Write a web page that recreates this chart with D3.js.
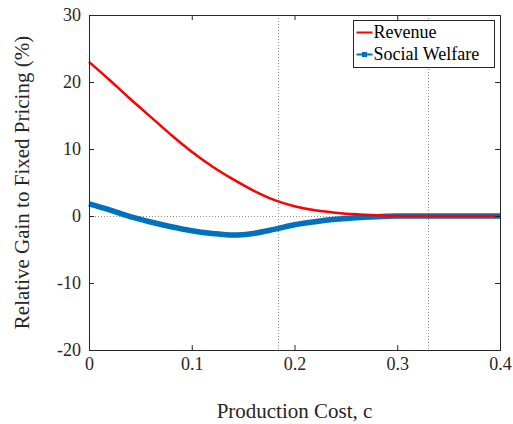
<!DOCTYPE html>
<html>
<head>
<meta charset="utf-8">
<script src="https://cdn.jsdelivr.net/npm/d3@7"></script>
<style>
  html, body { margin: 0; padding: 0; background: #fff; }
  svg { display: block; }
</style>
</head>
<body>
<svg id="chart" width="513" height="424"></svg>
<script>
// Data
const cost = [0, 0.02, 0.04, 0.06, 0.08, 0.10, 0.12, 0.14, 0.16, 0.18, 0.20, 0.22, 0.24, 0.26, 0.28, 0.30, 0.32, 0.34, 0.36, 0.38, 0.40]
const revenue = [23.0, 20.3, 17.5, 14.8, 12.1, 9.6, 7.4, 5.5, 3.8, 2.4, 1.45, 0.85, 0.5, 0.25, 0.1, 0, 0, 0, 0, 0, 0]
const welfare = [1.8, 0.9, -0.1, -0.9, -1.6, -2.2, -2.6, -2.85, -2.6, -2.0, -1.3, -0.85, -0.5, -0.25, -0.1, 0, 0, 0, 0, 0, 0]
const xTicks = [0, 0.1, 0.2, 0.3, 0.4]
const yTicks = [-20, -10, 0, 10, 20, 30]
const markers = [0.1837, 0.33]
const series = [
  { name: "Revenue", values: revenue, color: "#ff0000", width: 2.5 },
  { name: "Social Welfare", values: welfare, color: "#0072bd", width: 5.5 },
]

// Layout
const margin = { top: 15, right: 13, bottom: 74, left: 89 }
const width = 513, height = 424
const font = "'Liberation Serif', 'Times New Roman', serif"
const axisColor = "#262626"
const svg = d3.select("#chart").attr("font-family", font)

const x = d3.scaleLinear().domain([0, 0.4]).range([margin.left, width - margin.right])
const y = d3.scaleLinear().domain([-20, 30]).range([height - margin.bottom, margin.top])

// Reference lines
svg.append("line")
  .attr("x1", x(0)).attr("x2", x(0.4))
  .attr("y1", Math.round(y(0)) + 0.5).attr("y2", Math.round(y(0)) + 0.5)
  .attr("stroke", "#8c8c8c").attr("stroke-width", 1).attr("stroke-dasharray", "1,2")
svg.append("g")
  .selectAll("line")
  .data(markers)
  .join("line")
  .attr("x1", d => Math.round(x(d)) + 0.5).attr("x2", d => Math.round(x(d)) + 0.5)
  .attr("y1", y(30)).attr("y2", y(-20))
  .attr("stroke", "#8c8c8c").attr("stroke-width", 1).attr("stroke-dasharray", "1,2")

// Series (welfare first, revenue on top)
const line = d3.line()
  .curve(d3.curveMonotoneX)
  .x((d, i) => x(cost[i]))
  .y(d => y(d))
for (const s of series.slice().reverse()) {
  svg.append("path")
    .attr("d", line(s.values))
    .attr("fill", "none")
    .attr("stroke", s.color)
    .attr("stroke-width", s.width)
    .attr("stroke-linejoin", "round")
}

// Axes
const axBottom = d3.axisBottom(x).tickValues(xTicks).tickSize(-5).tickPadding(7).tickFormat(d => d === 0 ? "0" : d3.format(".1f")(d))
const axTop = d3.axisTop(x).tickValues(xTicks).tickSize(-5).tickFormat("")
const axLeft = d3.axisLeft(y).tickValues(yTicks).tickSize(-5).tickPadding(8).tickFormat(d => d < 0 ? "-" + Math.abs(d) : d)
const axRight = d3.axisRight(y).tickValues(yTicks).tickSize(-5).tickFormat("")

const style = g => {
  g.attr("font-family", font).attr("font-size", 18)
  g.select(".domain").attr("stroke", axisColor).attr("stroke-width", 1)
  g.selectAll(".tick line").attr("stroke", axisColor)
  g.selectAll(".tick text").attr("fill", axisColor)
}
svg.append("g").attr("transform", `translate(0,${height - margin.bottom})`).call(axBottom).call(style)
svg.append("g").attr("transform", `translate(0,${margin.top})`).call(axTop).call(style)
svg.append("g").attr("transform", `translate(${margin.left},0)`).call(axLeft).call(style)
svg.append("g").attr("transform", `translate(${width - margin.right},0)`).call(axRight).call(style)

// Axis labels
svg.append("text")
  .attr("x", (x(0) + x(0.4)) / 2)
  .attr("y", 418)
  .attr("text-anchor", "middle")
  .attr("fill", axisColor)
  .attr("font-size", 21)
  .text("Production Cost, c")
svg.append("text")
  .attr("transform", `translate(29,${(y(30) + y(-20)) / 2}) rotate(-90)`)
  .attr("text-anchor", "middle")
  .attr("fill", axisColor)
  .attr("font-size", 21)
  .text("Relative Gain to Fixed Pricing (%)")

// Legend
const legend = svg.append("g").attr("transform", "translate(353.5,20.5)")
legend.append("rect")
  .attr("width", 141).attr("height", 47)
  .attr("fill", "#fff").attr("stroke", axisColor).attr("stroke-width", 1)
legend.selectAll("g")
  .data(series)
  .join("g")
  .attr("transform", (d, i) => `translate(0,${12 + i * 22})`)
  .each(function (d) {
    const g = d3.select(this)
    g.append("line")
      .attr("x1", 3).attr("x2", 19).attr("y1", 0).attr("y2", 0)
      .attr("stroke", d.color).attr("stroke-width", 2)
    if (d.name === "Social Welfare") {
      g.append("rect")
        .attr("x", 8.5).attr("y", -2.5).attr("width", 5).attr("height", 5)
        .attr("fill", d.color)
    }
    g.append("text")
      .attr("x", 20).attr("y", 0)
      .attr("dy", "0.33em")
      .attr("fill", "#000")
      .attr("font-size", 18)
      .text(d.name)
  })
</script>
</body>
</html>
